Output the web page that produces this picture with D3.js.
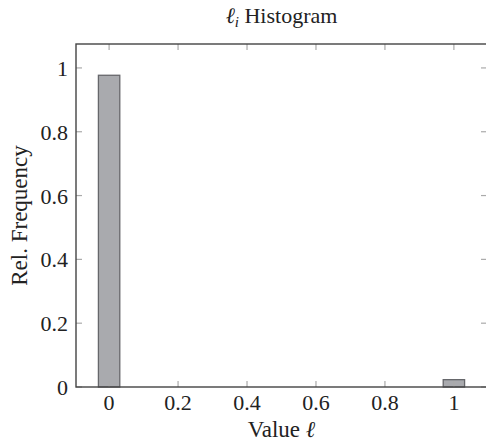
<!DOCTYPE html>
<html>
<head>
<meta charset="utf-8">
<script src="https://cdn.jsdelivr.net/npm/d3@7"></script>
<style>
  body { margin: 0; background: #fff; }
  text { font-family: "Liberation Serif", "DejaVu Serif", serif; fill: #222; }
</style>
</head>
<body>
<svg width="486" height="445"></svg>
<script>
// histogram bins (center of bin) and relative frequency
const binCenters = [0, 1];
const relFreq = [0.977, 0.023];
const xTicks = [0, 0.2, 0.4, 0.6, 0.8, 1];
const yTicks = [0, 0.2, 0.4, 0.6, 0.8, 1];

const svg = d3.select("svg");
const mLeft = 76, mRight = 487, mTop = 44, mBottom = 387;
const barW = 0.062;

const x = d3.scaleLinear().domain([-0.096, 1.096]).range([mLeft, mRight]);
const y = d3.scaleLinear().domain([0, 1.075]).range([mBottom, mTop]);

const fmt = d => d === 0 ? "0" : d === 1 ? "1" : d3.format(".1f")(d);

// bars
svg.selectAll(".bar")
  .data(binCenters.map((c, i) => ({ c: c, v: relFreq[i] })))
  .enter().append("rect")
  .attr("class", "bar")
  .attr("x", d => x(d.c - barW / 2))
  .attr("width", d => x(d.c + barW / 2) - x(d.c - barW / 2))
  .attr("y", d => y(d.v))
  .attr("height", d => y(0) - y(d.v))
  .style("fill", "#a9aaae")
  .style("stroke", "#66676b")
  .style("stroke-width", 1.3);

// inward ticks on all sides
const tickLen = 6;
const tg = svg.append("g").style("stroke", "#aaaaaa").style("stroke-width", 1.2);
xTicks.forEach(t => {
  tg.append("line").attr("x1", x(t)).attr("x2", x(t)).attr("y1", mBottom).attr("y2", mBottom - tickLen);
  tg.append("line").attr("x1", x(t)).attr("x2", x(t)).attr("y1", mTop).attr("y2", mTop + tickLen);
});
yTicks.forEach(t => {
  tg.append("line").attr("x1", mLeft).attr("x2", mLeft + tickLen).attr("y1", y(t)).attr("y2", y(t));
  tg.append("line").attr("x1", mRight).attr("x2", mRight - tickLen).attr("y1", y(t)).attr("y2", y(t));
});

// frame
svg.append("rect")
  .attr("x", mLeft).attr("y", mTop)
  .attr("width", mRight - mLeft).attr("height", mBottom - mTop)
  .style("fill", "none")
  .style("stroke", "#444")
  .style("stroke-width", 1.4);

// tick labels
svg.selectAll(".xl")
  .data(xTicks)
  .enter().append("text")
  .attr("x", d => x(d))
  .attr("y", mBottom + 23)
  .attr("text-anchor", "middle")
  .style("font-size", "22px")
  .text(fmt);

svg.selectAll(".yl")
  .data(yTicks)
  .enter().append("text")
  .attr("x", mLeft - 8)
  .attr("y", d => y(d) + 8)
  .attr("text-anchor", "end")
  .style("font-size", "22px")
  .text(fmt);

// title
const title = svg.append("text")
  .attr("x", (mLeft + mRight) / 2)
  .attr("y", 23)
  .attr("text-anchor", "middle")
  .style("font-size", "22px");
title.append("tspan").style("font-style", "italic").text("ℓ");
title.append("tspan").attr("dy", 4).style("font-size", "15px").style("font-style", "italic").text("i");
title.append("tspan").attr("dy", -4).text(" Histogram");

// axis labels
const xl = svg.append("text")
  .attr("x", (mLeft + mRight) / 2)
  .attr("y", 437)
  .attr("text-anchor", "middle")
  .style("font-size", "23px");
xl.append("tspan").text("Value ");
xl.append("tspan").style("font-style", "italic").text("ℓ");

svg.append("text")
  .attr("transform", "translate(27," + (mTop + mBottom) / 2 + ") rotate(-90)")
  .attr("text-anchor", "middle")
  .style("font-size", "23px")
  .text("Rel. Frequency");
</script>
</body>
</html>
